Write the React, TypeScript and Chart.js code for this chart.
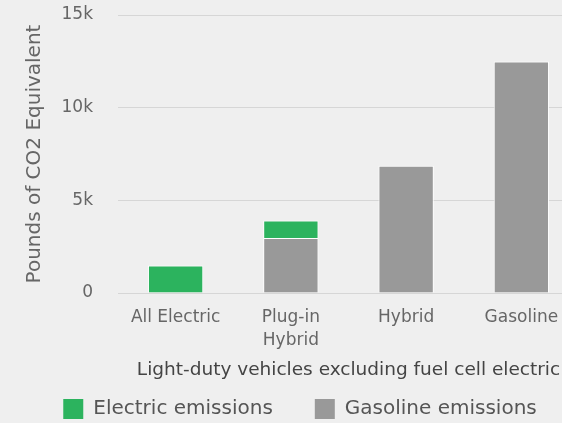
import React, { useEffect, useRef } from 'react';
import { Chart, registerables } from 'chart.js';

Chart.register(...registerables);

const CATEGORIES: (string | string[])[] = ['All Electric', ['Plug-in', 'Hybrid'], 'Hybrid', 'Gasoline'];
const ELECTRIC: (number | null)[] = [1480, 940, null, null];
const GASOLINE: (number | null)[] = [null, 2970, 6860, 12490];
const Y_TICKS = [0, 5000, 10000, 15000];
const Y_TICK_LABELS = ['0', '5k', '10k', '15k'];
const SERIES_NAMES = ['Electric emissions', 'Gasoline emissions'];
const Y_TITLE = 'Pounds of CO2 Equivalent';
const X_TITLE = 'Light-duty vehicles excluding fuel cell electric';

const GREEN = '#2cb35e';
const GRAY = '#999999';
const FONT = "'DejaVu Sans', sans-serif";

export default function App() {
  const ref = useRef<HTMLCanvasElement | null>(null);

  useEffect(() => {
    if (!ref.current) return;
    Chart.defaults.font.family = FONT;
    const chart = new Chart(ref.current, {
      type: 'bar',
      data: {
        labels: CATEGORIES as any,
        datasets: [
          {
            label: SERIES_NAMES[1],
            data: GASOLINE,
            backgroundColor: GRAY,
            borderColor: '#ffffff',
            borderWidth: 1,
            barPercentage: 0.6,
            categoryPercentage: 0.8,
          },
          {
            label: SERIES_NAMES[0],
            data: ELECTRIC,
            backgroundColor: GREEN,
            borderColor: '#ffffff',
            borderWidth: 1,
            barPercentage: 0.6,
            categoryPercentage: 0.8,
          },
        ],
      },
      options: {
        responsive: false,
        animation: false,
        devicePixelRatio: 1,
        layout: { padding: { top: 15, left: 0, right: 0, bottom: -6 } },
        plugins: {
          tooltip: { enabled: false },
          legend: {
            position: 'bottom',
            labels: {
              boxWidth: 20,
              boxHeight: 20,
              padding: 42,
              color: '#555555',
              font: { size: 20 },
              generateLabels: (c: any) => {
                const ds = c.data.datasets;
                return [1, 0].map((i) => ({
                  text: ds[i].label,
                  fillStyle: ds[i].backgroundColor,
                  strokeStyle: 'rgba(0,0,0,0)',
                  lineWidth: 0,
                  hidden: !c.isDatasetVisible(i),
                  datasetIndex: i,
                  fontColor: '#555555',
                }));
              },
            },
          },
        },
        scales: {
          x: {
            stacked: true,
            grid: { display: false, drawTicks: false },
            border: { display: false },
            ticks: {
              color: '#666666',
              padding: 14,
              maxRotation: 0,
              autoSkip: false,
              font: { size: 17, lineHeight: 1.3 },
            },
            title: {
              display: true,
              text: X_TITLE,
              color: '#444444',
              font: { size: 18.5, lineHeight: 1.2 },
              padding: { top: 0, bottom: -23.8 },
            },
            afterFit: (s: any) => {
              s.height = 64;
            },
          },
          y: {
            stacked: true,
            min: 0,
            max: 15000,
            grid: {
              color: '#d6d6d6',
              lineWidth: 1,
              drawTicks: true,
              tickLength: 22,
              tickColor: 'rgba(0,0,0,0)',
            },
            border: { display: false },
            ticks: {
              stepSize: 5000,
              padding: 3,
              color: '#666666',
              font: { size: 17 },
              callback: (v: any) => {
                const i = Y_TICKS.indexOf(Number(v));
                return i >= 0 ? Y_TICK_LABELS[i] : '';
              },
            },
            title: {
              display: true,
              text: Y_TITLE,
              color: '#666666',
              font: { size: 20, lineHeight: 1.2 },
              padding: { top: 23, bottom: 0 },
            },
            afterFit: (s: any) => {
              s.width = 118;
            },
          },
          yRight: {
            type: 'linear',
            position: 'right',
            display: true,
            grid: { display: false, drawTicks: false },
            border: { display: false },
            ticks: { display: false },
            afterFit: (s: any) => {
              s.width = 21;
            },
          },
        },
      } as any,
    });
    return () => chart.destroy();
  }, []);

  return (
    <div
      style={{
        position: 'fixed',
        left: 0,
        top: 0,
        width: 600,
        height: 423,
        background: '#efefef',
        overflow: 'hidden',
      }}
    >
      <canvas ref={ref} width={600} height={423} style={{ display: 'block' }} />
    </div>
  );
}
